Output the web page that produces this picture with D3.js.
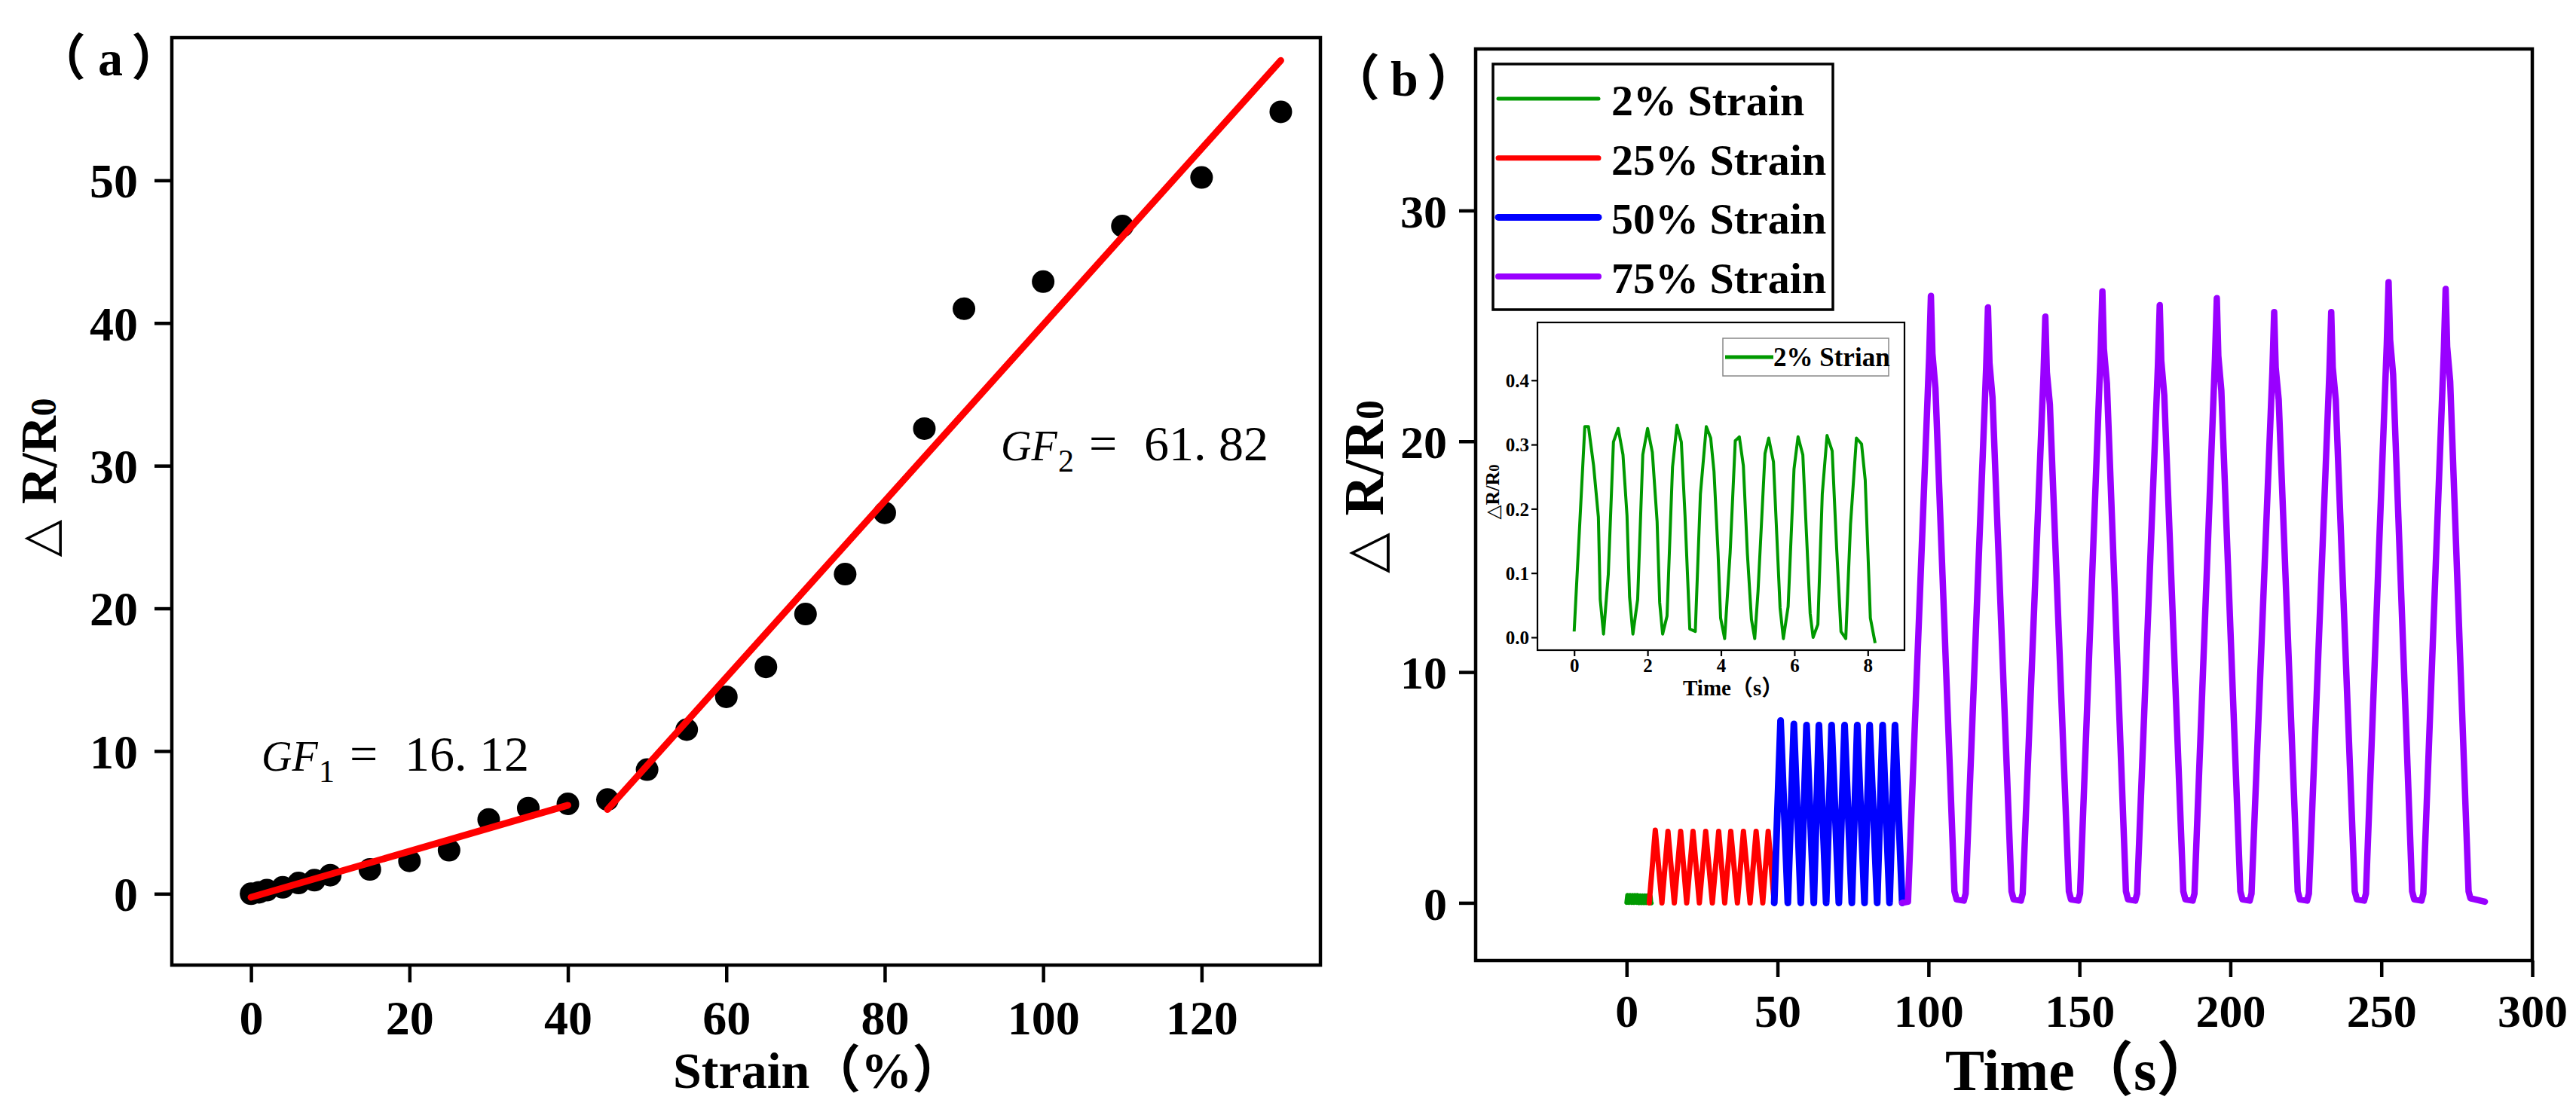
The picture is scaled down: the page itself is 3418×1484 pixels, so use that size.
<!DOCTYPE html>
<html>
<head>
<meta charset="utf-8">
<script src="https://cdn.jsdelivr.net/npm/d3@7"></script>
<style>
body{margin:0;background:#fff;}
svg{display:block;}
</style>
</head>
<body>
<svg id="chart"></svg>
<script>
var W = 3418, H = 1484;

// ---- panel (a): strain sweep ----
var strain = [0, 1, 2, 4, 6, 8, 10, 15, 20, 25, 30, 35, 40, 45, 50, 55, 60, 65, 70, 75, 80, 85, 90, 100, 110, 120, 130];
var dR = [0, 0.1, 0.25, 0.45, 0.75, 0.95, 1.3, 1.7, 2.3, 3.05, 5.2, 6.0, 6.3, 6.6, 8.7, 11.5, 13.8, 15.9, 19.6, 22.4, 26.7, 32.6, 41.0, 42.9, 46.8, 50.2, 54.8];
var fit1X = [0, 40], fit1Y = [-0.25, 6.2];
var fit2X = [45, 130], fit2Y = [5.9, 58.4];
var aXMajor = [0, 20, 40, 60, 80, 100, 120];
var aXMinor = [-10, 10, 30, 50, 70, 90, 110, 130];
var aYMajor = [0, 10, 20, 30, 40, 50];
var aYMinor = [5, 15, 25, 35, 45, 55];

// ---- panel (b): cycling ----
var t2 = [0, 0.29, 0.39, 0.53, 0.66, 0.71, 0.80, 0.93, 1.07, 1.20, 1.33, 1.44, 1.51, 1.60, 1.73, 1.87, 2.00, 2.13, 2.26, 2.33, 2.41, 2.53, 2.68, 2.80, 2.92, 3.02, 3.15, 3.30, 3.44, 3.60, 3.72, 3.81, 3.92, 3.99, 4.10, 4.25, 4.39, 4.50, 4.61, 4.72, 4.83, 4.92, 5.01, 5.20, 5.30, 5.43, 5.52, 5.61, 5.70, 5.83, 5.99, 6.10, 6.23, 6.33, 6.43, 6.51, 6.64, 6.76, 6.89, 7.03, 7.15, 7.27, 7.40, 7.53, 7.69, 7.83, 7.93, 8.07, 8.20];
var v2 = [0.009, 0.328, 0.328, 0.267, 0.187, 0.059, 0.005, 0.098, 0.304, 0.325, 0.284, 0.189, 0.063, 0.005, 0.059, 0.284, 0.325, 0.288, 0.180, 0.054, 0.005, 0.033, 0.265, 0.330, 0.304, 0.190, 0.013, 0.009, 0.223, 0.328, 0.310, 0.258, 0.132, 0.030, -0.002, 0.132, 0.306, 0.312, 0.267, 0.130, 0.028, -0.002, 0.072, 0.286, 0.310, 0.273, 0.160, 0.046, -0.002, 0.048, 0.262, 0.312, 0.284, 0.160, 0.037, 0.000, 0.020, 0.223, 0.314, 0.290, 0.140, 0.009, -0.002, 0.176, 0.310, 0.301, 0.245, 0.030, -0.009];

var t25 = [7.5, 9.5, 11.7, 13.7, 15.8, 17.9, 19.9, 22.0, 24.1, 26.2, 28.4, 30.5, 32.5, 34.5, 36.7, 38.7, 40.9, 42.9, 45.1, 46.9, 48.9];
var v25 = [0, 3.15, 0, 3.1, 0, 3.1, 0, 3.1, 0, 3.1, 0, 3.1, 0, 3.1, 0, 3.1, 0, 3.1, 0, 3.1, 0];

var t50 = [48.9, 51.0, 53.4, 55.4, 57.7, 59.6, 62.0, 63.7, 66.1, 67.9, 70.3, 72.2, 74.6, 76.4, 78.8, 80.5, 83.0, 84.8, 87.1, 88.9, 91.3];
var v50 = [0, 7.9, 0, 7.75, 0, 7.7, 0, 7.7, 0, 7.7, 0, 7.7, 0, 7.7, 0, 7.7, 0, 7.7, 0, 7.7, 0];

var t75 = [91.3, 93.2,
  100.2, 100.8, 101.3, 102.3, 108.6, 109.3, 111.7, 112.3,
  119.1, 119.7, 120.2, 121.2, 127.5, 128.2, 130.6, 131.2,
  138.1, 138.7, 139.2, 140.2, 146.5, 147.2, 149.6, 150.2,
  157.0, 157.6, 158.1, 159.1, 165.4, 166.1, 168.5, 169.1,
  176.0, 176.6, 177.1, 178.1, 184.4, 185.1, 187.5, 188.1,
  194.9, 195.5, 196.0, 197.0, 203.3, 204.0, 206.4, 207.0,
  213.9, 214.5, 215.0, 216.0, 222.3, 223.0, 225.4, 226.0,
  232.8, 233.4, 233.9, 234.9, 241.2, 241.9, 244.3, 244.9,
  251.8, 252.4, 252.9, 253.9, 260.2, 260.9, 263.3, 263.9,
  270.7, 271.3, 271.8, 272.8, 278.9, 279.5, 284.3];
var v75 = [0, 0.05,
  23.6, 26.3, 23.8, 22.3, 0.5, 0.15, 0.1, 0.4,
  23.2, 25.8, 23.4, 21.9, 0.5, 0.15, 0.1, 0.4,
  22.9, 25.4, 23.0, 21.6, 0.5, 0.15, 0.1, 0.4,
  23.8, 26.5, 24.0, 22.5, 0.5, 0.15, 0.1, 0.4,
  23.3, 25.9, 23.5, 22.0, 0.5, 0.15, 0.1, 0.4,
  23.6, 26.2, 23.7, 22.2, 0.5, 0.15, 0.1, 0.4,
  23.0, 25.6, 23.2, 21.8, 0.5, 0.15, 0.1, 0.4,
  23.0, 25.6, 23.2, 21.8, 0.5, 0.15, 0.1, 0.4,
  24.2, 26.9, 24.4, 22.9, 0.5, 0.15, 0.1, 0.4,
  23.9, 26.6, 24.1, 22.6, 0.5, 0.2, 0.05];

var bXMajor = [0, 50, 100, 150, 200, 250, 300];
var bXMinor = [-25, 25, 75, 125, 175, 225, 275];
var bYMajor = [0, 10, 20, 30];
var bYMinor = [5, 15, 25, 35];

var legendLabels = ["2% Strain", "25% Strain", "50% Strain", "75% Strain"];
var legendColors = ["#009900", "#ff0000", "#0000ff", "#9900ff"];
var legendWidths = [5, 7, 9, 8];

var iXMajor = [0, 2, 4, 6, 8];
var iXMinor = [1, 3, 5, 7];
var iYMajor = [0, 0.1, 0.2, 0.3, 0.4];
var iYMinor = [0.05, 0.15, 0.25, 0.35, 0.45];

var serif = "'Liberation Serif', 'Times New Roman', 'Noto Sans CJK SC', serif";

var svg = d3.select("#chart").attr("width", W).attr("height", H);
svg.append("rect").attr("width", W).attr("height", H).attr("fill", "#fff");

var aX = d3.scaleLinear().domain([-10, 135]).range([228, 1752]);
var aY = d3.scaleLinear().domain([-5, 60]).range([1281, 50]);
var bX = d3.scaleLinear().domain([-50, 300]).range([1958, 3360]);
var bY = d3.scaleLinear().domain([-2.5, 37]).range([1275, 65]);
var iX = d3.scaleLinear().domain([-1, 9]).range([2040, 2527]);
var iY = d3.scaleLinear().domain([-0.02, 0.49]).range([863, 428]);

function axes(x, y, o){
	var yb = y.range()[0], xl = x.range()[0];
	var gx = svg.append("g").attr("transform", "translate(0," + yb + ")");
	gx.call(d3.axisBottom(x).tickValues(o.xMinor).tickSize(o.minor).tickSizeOuter(0).tickFormat(""));
	gx.call(d3.axisBottom(x).tickValues(o.xMajor).tickSize(o.major).tickSizeOuter(0).tickFormat(o.fmtX));
	var gy = svg.append("g").attr("transform", "translate(" + xl + ",0)");
	gy.call(d3.axisLeft(y).tickValues(o.yMinor).tickSize(o.minor).tickSizeOuter(0).tickFormat(""));
	gy.call(d3.axisLeft(y).tickValues(o.yMajor).tickSize(o.major).tickSizeOuter(0).tickFormat(o.fmtY));
	[gx, gy].forEach(function(g){
		g.selectAll(".domain").remove();
		g.selectAll(".tick line").attr("stroke", "#000").attr("stroke-width", o.sw);
		g.selectAll(".tick text").attr("fill", "#000")
			.attr("font-family", serif).attr("font-weight", "bold").attr("font-size", o.fs);
	});
	gx.selectAll(".tick text").attr("y", o.xLab).attr("dy", 0);
	gy.selectAll(".tick text").attr("x", -o.yLab).attr("dy", "0.35em");
	svg.append("rect")
		.attr("x", x.range()[0]).attr("y", y.range()[1])
		.attr("width", x.range()[1] - x.range()[0]).attr("height", y.range()[0] - y.range()[1])
		.attr("fill", "none").attr("stroke", "#000").attr("stroke-width", o.sw);
}

function yTitle(x, y, fs, tri){
	var t = svg.append("text").attr("transform", "translate(" + x + "," + y + ") rotate(-90)")
		.attr("text-anchor", "middle").attr("font-family", serif).attr("font-weight", "bold")
		.attr("font-size", fs).attr("fill", "#000");
	t.append("tspan").attr("font-family", "'DejaVu Sans'").attr("font-weight", "normal")
		.attr("font-size", fs * 0.95).text("\u25B3" + (tri ? " " : ""));
	t.append("tspan").text("R/R");
	t.append("tspan").attr("font-size", fs * 0.7).text("0");
}

// ===== panel (a) =====
axes(aX, aY, {xMajor: aXMajor, xMinor: aXMinor, yMajor: aYMajor, yMinor: aYMinor,
	major: 23, minor: 12, sw: 4.5, fs: 64, xLab: 92, yLab: 45,
	fmtX: d3.format("d"), fmtY: d3.format("d")});

var line = d3.line().x(function(d){ return d[0]; }).y(function(d){ return d[1]; });

svg.append("g").selectAll("circle").data(strain).enter().append("circle")
	.attr("cx", function(d){ return aX(d); })
	.attr("cy", function(d, i){ return aY(dR[i]); })
	.attr("r", 15).attr("fill", "#000");

[[fit1X, fit1Y], [fit2X, fit2Y]].forEach(function(f){
	svg.append("path")
		.attr("d", line(f[0].map(function(v, i){ return [aX(v), aY(f[1][i])]; })))
		.attr("fill", "none").attr("stroke", "#ff0000").attr("stroke-width", 9)
		.attr("stroke-linecap", "round");
});

function gf(x, y, sub, val){
	var t = svg.append("text").attr("y", y).attr("font-family", serif)
		.attr("font-size", 66).attr("fill", "#000");
	t.append("tspan").attr("x", x).attr("font-style", "italic").attr("font-size", 56).text("GF");
	t.append("tspan").attr("x", x + 76).attr("dy", 15).attr("font-size", 42).text(sub);
	t.append("tspan").attr("x", x + 117).attr("dy", -15).text("=");
	t.append("tspan").attr("x", x + 190).text(val);
}
gf(347, 1023, "1", "16. 12");
gf(1328, 611, "2", "61. 82");

svg.append("text").attr("x", 893).attr("y", 1444).attr("font-family", serif)
	.attr("font-weight", "bold").attr("font-size", 68).text("Strain（%）");
yTitle(74, 634, 68, true);

var la = svg.append("text").attr("y", 100).attr("font-family", serif)
	.attr("font-weight", "bold").attr("font-size", 66);
la.append("tspan").attr("x", 48).text("（");
la.append("tspan").attr("x", 130).text("a");
la.append("tspan").attr("x", 174).text("）");

// ===== panel (b) =====
axes(bX, bY, {xMajor: bXMajor, xMinor: bXMinor, yMajor: bYMajor, yMinor: bYMinor,
	major: 22, minor: 11, sw: 4.5, fs: 62, xLab: 88, yLab: 38,
	fmtX: d3.format("d"), fmtY: d3.format("d")});

var bSeries = [[t2, v2], [t25, v25], [t50, v50], [t75, v75]];
var bWidths = [6, 7, 9, 8.5];
bSeries.forEach(function(s, k){
	svg.append("path")
		.attr("d", line(s[0].map(function(t, i){ return [bX(t), bY(s[1][i])]; })))
		.attr("fill", "none").attr("stroke", legendColors[k]).attr("stroke-width", bWidths[k])
		.attr("stroke-linejoin", "round").attr("stroke-linecap", "round");
});

// legend
svg.append("rect").attr("x", 1981).attr("y", 85).attr("width", 451).attr("height", 326)
	.attr("fill", "#fff").attr("stroke", "#000").attr("stroke-width", 3.5);
legendLabels.forEach(function(l, i){
	var yy = 131 + i * 78.7;
	svg.append("line").attr("x1", 1988).attr("x2", 2121).attr("y1", yy).attr("y2", yy)
		.attr("stroke", legendColors[i]).attr("stroke-width", legendWidths[i]).attr("stroke-linecap", "round");
	svg.append("text").attr("x", 2138).attr("y", yy + 22).attr("font-family", serif)
		.attr("font-weight", "bold").attr("font-size", 58).text(l);
});

svg.append("text").attr("x", 2581).attr("y", 1447).attr("font-family", serif)
	.attr("font-weight", "bold").attr("font-size", 78).text("Time（s）");
yTitle(1835, 646, 74, true);

var lb = svg.append("text").attr("y", 127).attr("font-family", serif)
	.attr("font-weight", "bold").attr("font-size", 66);
lb.append("tspan").attr("x", 1765).text("（");
lb.append("tspan").attr("x", 1845).text("b");
lb.append("tspan").attr("x", 1893).text("）");

// ===== inset =====
svg.append("rect").attr("x", 2040).attr("y", 428).attr("width", 487).attr("height", 435).attr("fill", "#fff");
axes(iX, iY, {xMajor: iXMajor, xMinor: iXMinor, yMajor: iYMajor, yMinor: iYMinor,
	major: 8, minor: 4, sw: 2.2, fs: 25, xLab: 29, yLab: 11,
	fmtX: d3.format("d"), fmtY: d3.format(".1f")});
svg.append("path")
	.attr("d", line(t2.map(function(t, i){ return [iX(t), iY(v2[i])]; })))
	.attr("fill", "none").attr("stroke", legendColors[0]).attr("stroke-width", 4)
	.attr("stroke-linejoin", "round");
svg.append("rect").attr("x", 2286).attr("y", 449).attr("width", 220).attr("height", 50)
	.attr("fill", "#fff").attr("stroke", "#888").attr("stroke-width", 1.5);
svg.append("line").attr("x1", 2289).attr("x2", 2353).attr("y1", 474).attr("y2", 474)
	.attr("stroke", legendColors[0]).attr("stroke-width", 5);
svg.append("text").attr("x", 2353).attr("y", 486).attr("font-family", serif)
	.attr("font-weight", "bold").attr("font-size", 35).text("2% Strian");
svg.append("text").attr("x", 2233).attr("y", 923).attr("font-family", serif)
	.attr("font-weight", "bold").attr("font-size", 29).text("Time（s）");
yTitle(1989, 653, 26, false);
</script>
</body>
</html>
